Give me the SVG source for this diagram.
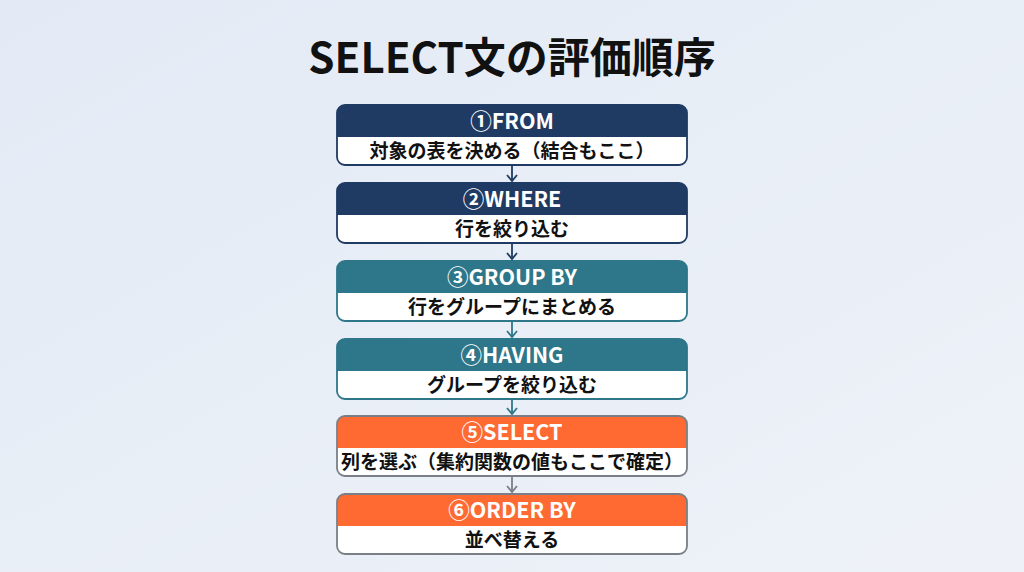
<svg xmlns="http://www.w3.org/2000/svg" width="1024" height="572" viewBox="0 0 1024 572">
<defs>
<linearGradient id="bg" x1="0" y1="0" x2="1" y2="1">
<stop offset="0" stop-color="#e3eaf5"/>
<stop offset="1" stop-color="#eef2f8"/>
</linearGradient>
<marker id="ahN" viewBox="0 0 12 12" refX="10" refY="6" markerWidth="12" markerHeight="12" markerUnits="userSpaceOnUse" orient="auto">
<path d="M4,1 L10,6 L4,11" fill="none" stroke="#1f3b63" stroke-width="1.8"/>
</marker>
<marker id="ahT" viewBox="0 0 12 12" refX="10" refY="6" markerWidth="12" markerHeight="12" markerUnits="userSpaceOnUse" orient="auto">
<path d="M4,1 L10,6 L4,11" fill="none" stroke="#2e7689" stroke-width="1.8"/>
</marker>
<marker id="ahG" viewBox="0 0 12 12" refX="10" refY="6" markerWidth="12" markerHeight="12" markerUnits="userSpaceOnUse" orient="auto">
<path d="M4,1 L10,6 L4,11" fill="none" stroke="#7a7f87" stroke-width="1.8"/>
</marker>
</defs>
<style>
.title{font-family:"Noto Sans CJK JP","Noto Sans",sans-serif;font-weight:700;font-size:42px;fill:#111;}
.hd{font-family:"Noto Sans CJK JP","Noto Sans",sans-serif;font-weight:700;font-size:21.5px;fill:#fff;}
.bd{font-family:"Noto Sans CJK JP","Noto Sans",sans-serif;font-weight:700;font-size:19px;fill:#111;}
.body{fill:#fff;}
.navy .hdr{fill:#1f3b63;} .navy .frame{stroke:#1f3b63;}
.teal .hdr{fill:#2e7689;} .teal .frame{stroke:#2e7689;}
.orange .hdr{fill:#ff6a33;} .orange .frame{stroke:#7a7f87;}
.frame{fill:none;stroke-width:1.8;}
.conn line{stroke-width:1.8;}
</style>
<rect width="1024" height="572" fill="url(#bg)"/>
<text class="title" x="512" y="73" text-anchor="middle">SELECT文の評価順序</text>

<g id="node1" class="navy">
<rect class="body" x="337" y="105" width="350" height="60" rx="8"/>
<path class="hdr" d="M337,137 V113 A8,8 0 0 1 345,105 H679 A8,8 0 0 1 687,113 V137 Z"/>
<rect class="frame" x="337" y="105" width="350" height="60" rx="8"/>
<text class="hd" x="512" y="129" text-anchor="middle">①FROM</text>
<text class="bd" x="512" y="158" text-anchor="middle">対象の表を決める（結合もここ）</text>
</g>
<g id="node2" class="navy">
<rect class="body" x="337" y="183" width="350" height="60" rx="8"/>
<path class="hdr" d="M337,215 V191 A8,8 0 0 1 345,183 H679 A8,8 0 0 1 687,191 V215 Z"/>
<rect class="frame" x="337" y="183" width="350" height="60" rx="8"/>
<text class="hd" x="512" y="207" text-anchor="middle">②WHERE</text>
<text class="bd" x="512" y="236" text-anchor="middle">行を絞り込む</text>
</g>
<g id="node3" class="teal">
<rect class="body" x="337" y="261" width="350" height="60" rx="8"/>
<path class="hdr" d="M337,293 V269 A8,8 0 0 1 345,261 H679 A8,8 0 0 1 687,269 V293 Z"/>
<rect class="frame" x="337" y="261" width="350" height="60" rx="8"/>
<text class="hd" x="512" y="285" text-anchor="middle">③GROUP BY</text>
<text class="bd" x="512" y="314" text-anchor="middle">行をグループにまとめる</text>
</g>
<g id="node4" class="teal">
<rect class="body" x="337" y="339" width="350" height="60" rx="8"/>
<path class="hdr" d="M337,371 V347 A8,8 0 0 1 345,339 H679 A8,8 0 0 1 687,347 V371 Z"/>
<rect class="frame" x="337" y="339" width="350" height="60" rx="8"/>
<text class="hd" x="512" y="363" text-anchor="middle">④HAVING</text>
<text class="bd" x="512" y="392" text-anchor="middle">グループを絞り込む</text>
</g>
<g id="node5" class="orange">
<rect class="body" x="337" y="416" width="350" height="60" rx="8"/>
<path class="hdr" d="M337,448 V424 A8,8 0 0 1 345,416 H679 A8,8 0 0 1 687,424 V448 Z"/>
<rect class="frame" x="337" y="416" width="350" height="60" rx="8"/>
<text class="hd" x="512" y="440" text-anchor="middle">⑤SELECT</text>
<text class="bd" x="512" y="469" text-anchor="middle">列を選ぶ（集約関数の値もここで確定）</text>
</g>
<g id="node6" class="orange">
<rect class="body" x="337" y="494" width="350" height="60" rx="8"/>
<path class="hdr" d="M337,526 V502 A8,8 0 0 1 345,494 H679 A8,8 0 0 1 687,502 V526 Z"/>
<rect class="frame" x="337" y="494" width="350" height="60" rx="8"/>
<text class="hd" x="512" y="518" text-anchor="middle">⑥ORDER BY</text>
<text class="bd" x="512" y="547" text-anchor="middle">並べ替える</text>
</g>

<g id="connectors" class="conn">
<line x1="512" y1="166" x2="512" y2="181" stroke="#1f3b63" marker-end="url(#ahN)"/>
<line x1="512" y1="244" x2="512" y2="259" stroke="#1f3b63" marker-end="url(#ahN)"/>
<line x1="512" y1="322" x2="512" y2="337" stroke="#2e7689" marker-end="url(#ahT)"/>
<line x1="512" y1="400" x2="512" y2="414" stroke="#2e7689" marker-end="url(#ahT)"/>
<line x1="512" y1="477" x2="512" y2="492" stroke="#7a7f87" marker-end="url(#ahG)"/>
</g>
</svg>
